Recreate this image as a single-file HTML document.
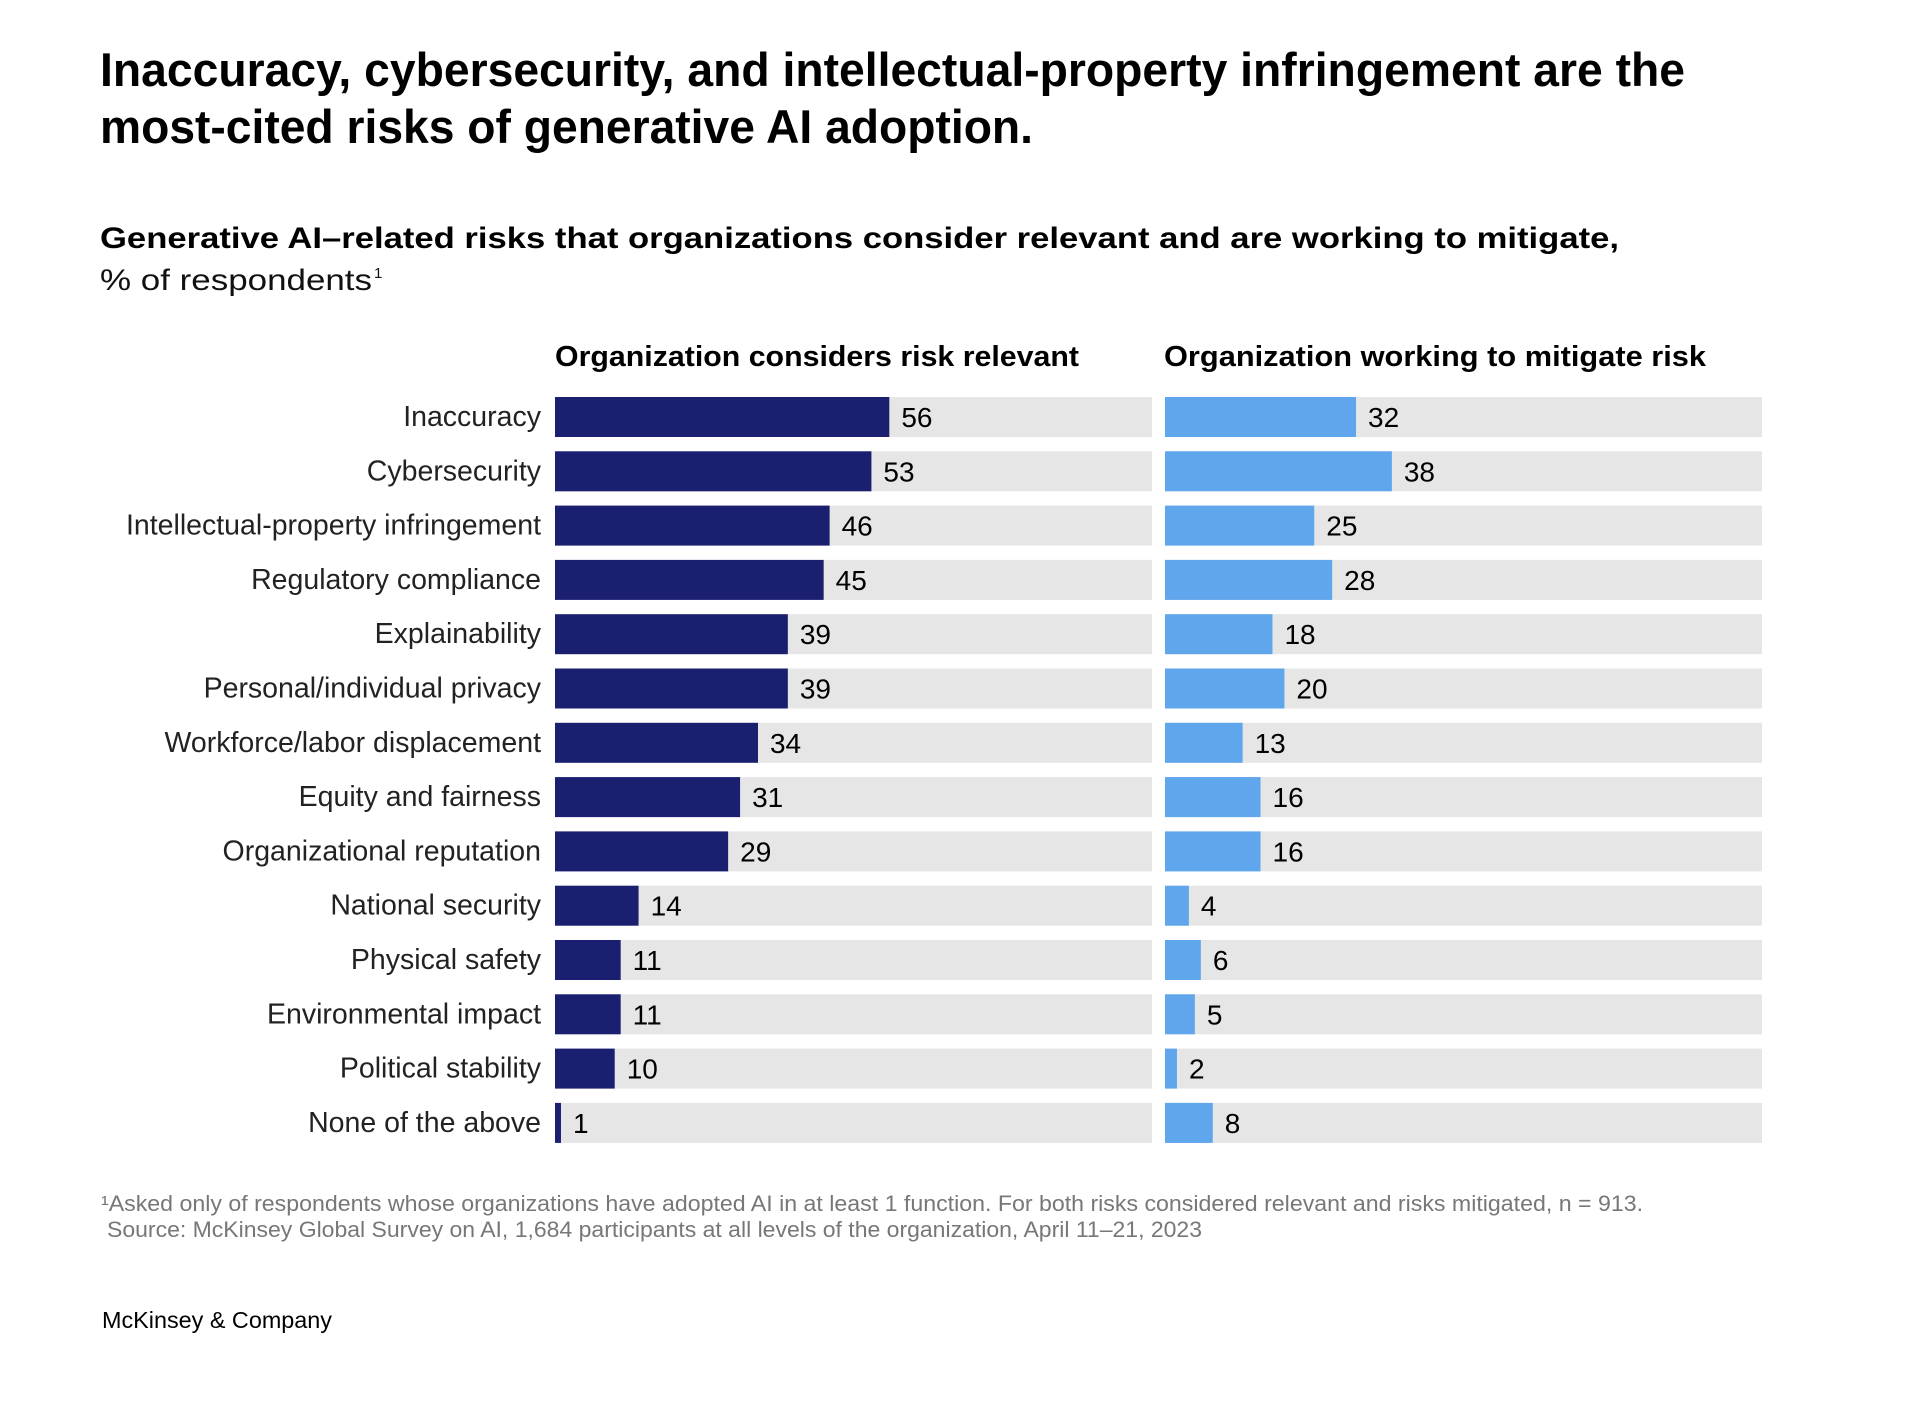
<!DOCTYPE html>
<html><head><meta charset="utf-8">
<style>
html,body{margin:0;padding:0;background:#fff;}
svg{display:block;font-family:"Liberation Sans",Arial,sans-serif;}
</style></head>
<body>
<svg id="chart" width="1931" height="1411" viewBox="0 0 1931 1411">
  <rect x="0" y="0" width="1931" height="1411" fill="#fff"/>
  <text x="100" y="86" font-size="47" font-weight="bold" fill="#000" textLength="1585" lengthAdjust="spacingAndGlyphs">Inaccuracy, cybersecurity, and intellectual-property infringement are the</text>
  <text x="100" y="143" font-size="47" font-weight="bold" fill="#000" textLength="933" lengthAdjust="spacingAndGlyphs">most-cited risks of generative AI adoption.</text>
  <text x="100" y="248" font-size="30" font-weight="bold" fill="#000" textLength="1519" lengthAdjust="spacingAndGlyphs">Generative AI–related risks that organizations consider relevant and are working to mitigate,</text>
  <text x="100" y="290" font-size="30" fill="#111" textLength="272" lengthAdjust="spacingAndGlyphs">% of respondents</text>
  <text x="374" y="278" font-size="15" fill="#111">1</text>
  <text x="555" y="366" font-size="29" font-weight="bold" fill="#000" textLength="524" lengthAdjust="spacingAndGlyphs">Organization considers risk relevant</text>
  <text x="1164" y="366" font-size="29" font-weight="bold" fill="#000" textLength="542" lengthAdjust="spacingAndGlyphs">Organization working to mitigate risk</text>
  <g id="bars"></g>
  <text x="101" y="1211" font-size="22" fill="#777" textLength="1542" lengthAdjust="spacingAndGlyphs">¹Asked only of respondents whose organizations have adopted AI in at least 1 function. For both risks considered relevant and risks mitigated, n = 913.</text>
  <text x="107" y="1237" font-size="22" fill="#777" textLength="1095" lengthAdjust="spacingAndGlyphs">Source: McKinsey Global Survey on AI, 1,684 participants at all levels of the organization, April 11–21, 2023</text>
  <text x="102" y="1328" font-size="23" fill="#000" textLength="230" lengthAdjust="spacingAndGlyphs">McKinsey &amp; Company</text>
</svg>
<script>
const categories = ["Inaccuracy","Cybersecurity","Intellectual-property infringement","Regulatory compliance","Explainability","Personal/individual privacy","Workforce/labor displacement","Equity and fairness","Organizational reputation","National security","Physical safety","Environmental impact","Political stability","None of the above"];
const relevantValues = [56,53,46,45,39,39,34,31,29,14,11,11,10,1];
const mitigateValues = [32,38,25,28,18,20,13,16,16,4,6,5,2,8];
const axisMax = [100];

const NS = "http://www.w3.org/2000/svg";
const g = document.getElementById("bars");
const rowTop0 = 397, rowPitch = 54.3, barH = 40;
const panelW = 597;
const leftX = 555, rightX = 1165, labelRight = 541;
function xScale(v){ return v / axisMax[0] * panelW; }
function yRow(i){ return rowTop0 + i * rowPitch; }
function mk(tag, attrs){
  const e = document.createElementNS(NS, tag);
  for (const k in attrs) e.setAttribute(k, attrs[k]);
  g.appendChild(e);
  return e;
}
function drawPanel(x0, vals, color, key){
  vals.forEach((v, i) => {
    const y = yRow(i);
    const bg = mk("rect", {x:x0, y:y, width:panelW, height:barH, fill:"#e6e6e6"});
    
    
    const w = Math.max(xScale(v), 3);
    const bar = mk("rect", {x:x0, y:y, width:w, height:barH, fill:color});
    
    
    const t = mk("text", {x:x0 + w + 12, y:y + 30, "font-size":28, fill:"#000"});
    t.textContent = v;
    
    
  });
}
categories.forEach((c, i) => {
  const t = mk("text", {x:labelRight, y:yRow(i) + 29, "font-size":28.5, fill:"#222", "text-anchor":"end"});
  t.textContent = c;
  
  
});
drawPanel(leftX, relevantValues, "#1b1f70", "relevant");
drawPanel(rightX, mitigateValues, "#5fa6ec", "mitigate");
</script>
</body></html>
